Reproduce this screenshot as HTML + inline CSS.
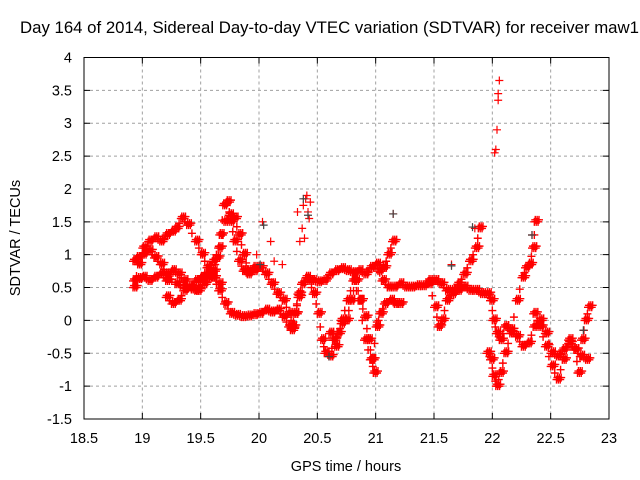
<!DOCTYPE html>
<html><head><meta charset="utf-8"><style>
body{margin:0;background:#fff}
svg{display:block;font-family:"Liberation Sans",sans-serif}
</style></head><body>
<svg id="chart" width="640" height="480">
<text x="20" y="33" font-size="16.8" text-anchor="start">Day 164 of 2014, Sidereal Day-to-day VTEC variation (SDTVAR) for receiver maw1</text>
<g id="grid"></g>
<g id="marks"></g>
<rect x="84" y="57.5" width="525" height="361.5" fill="none" stroke="#000" stroke-width="1"/>
<g id="ticks"></g>
<text x="346" y="471" font-size="14.5" text-anchor="middle">GPS time / hours</text>
<text transform="translate(20,238) rotate(-90)" font-size="14.5" text-anchor="middle">SDTVAR / TECUs</text>
</svg>
<script>
const xTicks=[18.5,19,19.5,20,20.5,21,21.5,22,22.5,23];
const yTicks=[-1.5,-1,-0.5,0,0.5,1,1.5,2,2.5,3,3.5,4];
const s1t=[18.92,18.95,19.0,19.05,19.1,19.15,19.2,19.25,19.28,19.33,19.38,19.45,19.5,19.55,19.6,19.65,19.7,19.75,19.8,19.85,19.9,19.95,20.0,20.05,20.1,20.15,20.2,20.25,20.27,20.3,20.33];
const s1v=[0.9,0.95,1.0,1.2,1.25,1.2,1.3,1.35,1.4,1.55,1.45,1.2,1.0,0.8,0.65,0.45,0.25,0.1,0.07,0.05,0.06,0.08,0.1,0.15,0.12,0.15,0.05,-0.1,-0.15,0.1,0.4];
const s2t=[18.92,18.96,19.0,19.05,19.1,19.15,19.2,19.25,19.3,19.35,19.4,19.45,19.5,19.55,19.6,19.65];
const s2v=[0.6,0.63,0.65,0.6,0.65,0.7,0.6,0.75,0.7,0.6,0.5,0.45,0.6,0.7,0.65,0.55];
const s3t=[18.92,18.96,19.0,19.05,19.1,19.15,19.2,19.28,19.35,19.42,19.47,19.52,19.56,19.6,19.63,19.66,19.69,19.72,19.75,19.78,19.82,19.86,19.9,19.95,20.0];
const s3v=[0.5,0.85,1.1,1.05,0.95,0.85,0.7,0.55,0.5,0.47,0.45,0.55,0.65,0.75,0.95,1.3,1.75,1.8,1.5,1.2,0.9,0.75,0.7,0.8,0.8];
const s4t=[19.2,19.25,19.3,19.35,19.4,19.45,19.5,19.55,19.6,19.65,19.7,19.74,19.78,19.82,19.86,19.9,19.95,20.0,20.05,20.1,20.15,20.2,20.25,20.28];
const s4v=[0.35,0.25,0.3,0.45,0.5,0.6,0.65,0.8,0.9,1.1,1.5,1.6,1.55,1.3,1.0,0.75,0.75,0.8,0.7,0.55,0.4,0.3,0.1,-0.1];
const s5t=[20.3,20.33,20.36,20.4,20.45,20.5,20.55,20.6,20.65,20.7,20.75,20.8,20.85,20.9,20.95,21.0,21.05,21.1,21.15,21.2,21.25,21.3,21.35,21.4,21.45,21.5,21.55,21.6,21.65,21.7,21.75,21.8,21.85,21.9,21.95,21.98,22.0,22.03,22.06,22.1,22.15,22.2,22.25,22.3,22.35,22.4,22.45,22.5,22.55,22.6,22.65,22.7,22.75,22.8];
const s5v=[0.1,0.35,0.55,0.65,0.6,0.58,0.6,0.7,0.75,0.78,0.75,0.72,0.75,0.7,0.8,0.85,0.6,0.5,0.5,0.55,0.5,0.5,0.52,0.52,0.6,0.6,0.55,0.45,0.4,0.45,0.5,0.45,0.45,0.4,0.4,0.3,0.0,-0.2,-0.3,-0.1,-0.15,-0.25,-0.4,-0.35,-0.1,0.0,-0.2,-0.5,-0.55,-0.45,-0.35,-0.45,-0.55,-0.6];
const s6t=[20.42,20.46,20.5,20.53,20.56,20.6,20.63,20.67,20.7,20.74,20.78,20.82,20.86,20.9,20.93,20.96,21.0,21.03,21.07,21.12,21.16,21.2];
const s6v=[0.6,0.4,0.1,-0.3,-0.5,-0.55,-0.3,-0.2,-0.05,0.0,0.3,0.6,0.3,0.05,-0.3,-0.6,-0.1,0.1,0.25,0.3,0.25,0.25];
const s7t=[20.6,20.65,20.7,20.75,20.8,20.85,20.9,20.95,20.98,21.02,21.06,21.1,21.14];
const s7v=[-0.2,-0.4,0.0,0.3,0.6,0.3,-0.3,-0.6,-0.8,0.75,0.8,1.0,1.2];
const s8t=[21.45,21.5,21.53,21.56,21.6,21.65,21.7,21.75,21.8,21.85,21.88];
const s8v=[0.55,0.2,-0.1,0.0,0.3,0.45,0.55,0.7,0.9,1.1,1.4];
const s9t=[21.95,21.98,22.0,22.03,22.06,22.1,22.15,22.2,22.25,22.28,22.31,22.34,22.36];
const s9v=[-0.5,-0.6,-0.85,-1.0,-0.8,-0.5,-0.2,0.3,0.65,0.8,0.85,1.1,1.5];
const s10t=[22.35,22.4,22.45,22.5,22.55,22.6,22.65,22.7,22.73,22.76,22.79,22.82];
const s10v=[0.1,-0.1,-0.4,-0.7,-0.9,-0.6,-0.3,-0.45,-0.8,-0.3,0.0,0.2];
const outT=[22.02,22.03,22.04,22.05,22.05,22.06,20.35,20.37,20.38,20.4,20.41,20.42,20.43,20.44,21.15,21.85,20.03,20.1,20.13,19.98,20.2,21.65,22.33,22.34,20.33,20.39];
const outV=[2.55,2.6,2.9,3.35,3.45,3.65,1.2,1.4,1.75,1.85,1.9,1.65,1.55,1.8,1.62,1.4,1.5,1.2,0.9,1.0,0.85,0.85,0.85,1.3,1.65,1.25];
const darkT=[20.04,20.38,20.42,21.15,21.83,22.34,22.78,21.65,20.6,20.01];
const darkV=[1.45,1.85,1.6,1.62,1.42,1.3,-0.15,0.83,-0.55,0.85];

const X0=84,X1=609,Y0=419,Y1=57.5;
const xs=t=>X0+(t-18.5)/4.5*(X1-X0);
const ys=v=>Y0-(v+1.5)/5.5*(Y0-Y1);
const NS='http://www.w3.org/2000/svg';
const grid=document.getElementById('grid'),ticks=document.getElementById('ticks'),marks=document.getElementById('marks');
function mk(tag,attrs,parent){const e=document.createElementNS(NS,tag);for(const k in attrs)e.setAttribute(k,attrs[k]);parent.appendChild(e);return e;}
xTicks.forEach(t=>{const x=xs(t);
 if(t>18.5&&t<23){const g=mk('line',{x1:x,x2:x,y1:Y1,y2:Y0,stroke:'#a0a0a0','stroke-dasharray':'3,3'},grid);}
 const tk=mk('path',{d:`M${x},${Y0}v-6M${x},${Y1}v6`,stroke:'#000'},ticks);
 const l=mk('text',{x:x,y:Y0+24,'font-size':'14.5','text-anchor':'middle'},ticks);l.textContent=String(t);});
yTicks.forEach(v=>{const y=ys(v);
 if(v>-1.5&&v<4){const g=mk('line',{x1:X0,x2:X1,y1:y,y2:y,stroke:'#a0a0a0','stroke-dasharray':'3,3'},grid);}
 const tk=mk('path',{d:`M${X0},${y}h6M${X1},${y}h-6`,stroke:'#000'},ticks);
 const l=mk('text',{x:X0-12,y:y+5,'font-size':'14.5','text-anchor':'end'},ticks);l.textContent=String(v);});
function plot(T,V,color,w){for(let i=0;i<T.length;i++){const x=xs(T[i]),y=ys(V[i]);
 const p=mk('path',{d:`M${x-4},${y}h8M${x},${y-4}v8`,stroke:color,'stroke-width':w,fill:'none'},marks);
 
 }}
function dense(T,V){
 for(let k=0;k<6;k++){plot(T.map(t=>t+k*0.008),V.map(v=>v+(k%2)*0.03),'#f00',1.4);}
 plot(T.slice(1).map((t,i)=>(t+T[i])/2+0.01),V.slice(1).map((v,i)=>(v+V[i])/2),'#f00',1.4);
}
[[s1t,s1v],[s2t,s2v],[s3t,s3v],[s4t,s4v],[s5t,s5v],[s6t,s6v],[s7t,s7v],[s8t,s8v],[s9t,s9v],[s10t,s10v]].forEach(([T,V])=>dense(T,V));
plot(outT,outV,'#f00',1.2);
plot(darkT,darkV,'#444',1.2);
</script>
</body></html>
